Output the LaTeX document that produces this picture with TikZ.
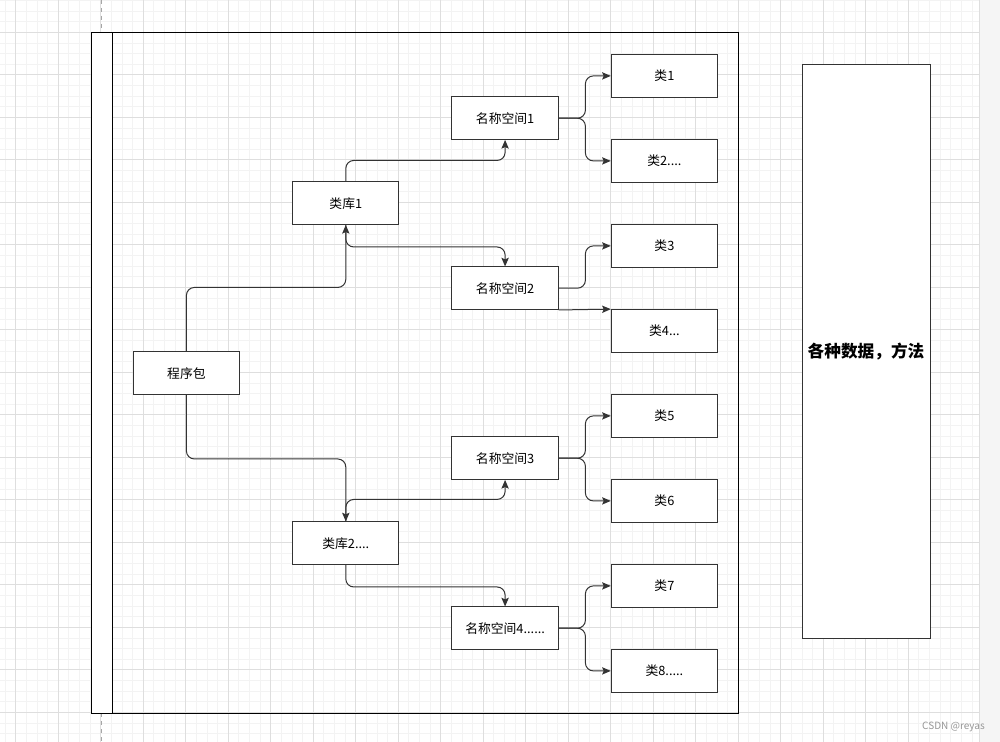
\documentclass[tikz,border=0pt]{standalone}
\usepackage{fontspec}
\setmainfont{Noto Sans CJK SC}
\usetikzlibrary{arrows.meta}
\definecolor{minorgrid}{RGB}{243,243,243}
\definecolor{majorgrid}{RGB}{222,222,222}
\definecolor{sidegray}{RGB}{245,245,245}
\definecolor{wm}{RGB}{150,150,150}
\begin{document}
\begin{tikzpicture}[x=0.75pt,y=-0.75pt,
  box/.style={draw=black!80,fill=white,line width=0.75pt,minimum width=79.7pt,minimum height=31.9pt,inner sep=0pt,font=\fontsize{9.6}{11}\selectfont},
  conn/.style={draw=black!80,line width=0.75pt,rounded corners=6pt,-{Stealth[length=6.5pt,width=5.5pt,inset=1.2pt]}},
  minor/.style={draw=minorgrid,line width=0.5pt},
  major/.style={draw=majorgrid,line width=0.6pt}]
\useasboundingbox (0,0) rectangle (1000,742);
\fill[white] (0,0) rectangle (1000,742);
% grid
\foreach \i in {0,...,91} {\draw[minor] ({5.05+10.625*\i},0) -- ({5.05+10.625*\i},742);}
\foreach \j in {0,...,69} {\draw[minor] (0,{0.4+10.625*\j}) -- (979,{0.4+10.625*\j});}
\foreach \i in {0,...,21} {\draw[major] ({15.7+42.5*\i},0) -- ({15.7+42.5*\i},742);}
\foreach \j in {0,...,16} {\draw[major] (0,{32.3+42.5*\j}) -- (979,{32.3+42.5*\j});}
\fill[sidegray] (979.5,0) rectangle (1000,742);
\draw[majorgrid,line width=0.7pt] (979.5,0) -- (979.5,742);
% page break dashes
\draw[black!35,dashed,line width=0.6pt] (101,0) -- (101,33);
\draw[black!35,dashed,line width=0.6pt] (101,713) -- (101,742);
% container
\fill[white] (91,33) rectangle (112,713);
\draw[black,line width=0.75pt] (91,33) rectangle (738,713);
\draw[black,line width=0.75pt] (112,33) -- (112,713);
% nodes
\node[box] (pkg) at (186.4,373.2) {程序包};
\node[box] (lib1) at (345.8,203.2) {类库1};
\node[box] (lib2) at (345.8,543.2) {类库2....};
\node[box] (ns1) at (505.1,118.2) {名称空间1};
\node[box] (ns2) at (505.1,288.2) {名称空间2};
\node[box] (ns3) at (505.1,458.2) {名称空间3};
\node[box] (ns4) at (505.1,628.2) {名称空间4......};
\node[box] (c1) at (664.4,75.9) {类1};
\node[box] (c2) at (664.4,160.9) {类2....};
\node[box] (c3) at (664.4,245.9) {类3};
\node[box] (c4) at (664.4,330.9) {类4...};
\node[box] (c5) at (664.4,415.9) {类5};
\node[box] (c6) at (664.4,500.9) {类6};
\node[box] (c7) at (664.4,585.9) {类7};
\node[box] (c8) at (664.4,670.9) {类8.....};
\node[box,minimum width=96pt,minimum height=430pt,font=\fontsize{12.5}{14}\selectfont\bfseries] (big) at (866,351.5) {各种数据，方法};
% connectors
\draw[conn] (pkg.north) -- ([yshift=48pt]pkg.north) -| (lib1.south);
\draw[conn] (pkg.south) -- ([yshift=-48pt]pkg.south) -| (lib2.north);
\draw[conn] (lib1.north) -- ([yshift=15.75pt]lib1.north) -| (ns1.south);
\draw[conn] (lib1.south) -- ([yshift=-16.5pt]lib1.south) -| (ns2.north);
\draw[conn] (lib2.north) -- ([yshift=16.5pt]lib2.north) -| (ns3.south);
\draw[conn] (lib2.south) -- ([yshift=-16.5pt]lib2.south) -| (ns4.north);
\draw[conn] (ns1.east) -- ([xshift=20pt]ns1.east) |- (c1.west);
\draw[conn] (ns1.east) -- ([xshift=20pt]ns1.east) |- (c2.west);
\draw[conn] (ns2.east) -- ([xshift=20pt]ns2.east) |- (c3.west);
\draw[conn] (ns2.south east) -- (c4.north west);
\draw[conn] (ns3.east) -- ([xshift=20pt]ns3.east) |- (c5.west);
\draw[conn] (ns3.east) -- ([xshift=20pt]ns3.east) |- (c6.west);
\draw[conn] (ns4.east) -- ([xshift=20pt]ns4.east) |- (c7.west);
\draw[conn] (ns4.east) -- ([xshift=20pt]ns4.east) |- (c8.west);
% watermark
\node[anchor=east,text=wm,inner sep=0pt,font=\fontsize{7.5}{9}\selectfont] (wmk) at (985,726.5) {CSDN @reyas};
\end{tikzpicture}
\end{document}
